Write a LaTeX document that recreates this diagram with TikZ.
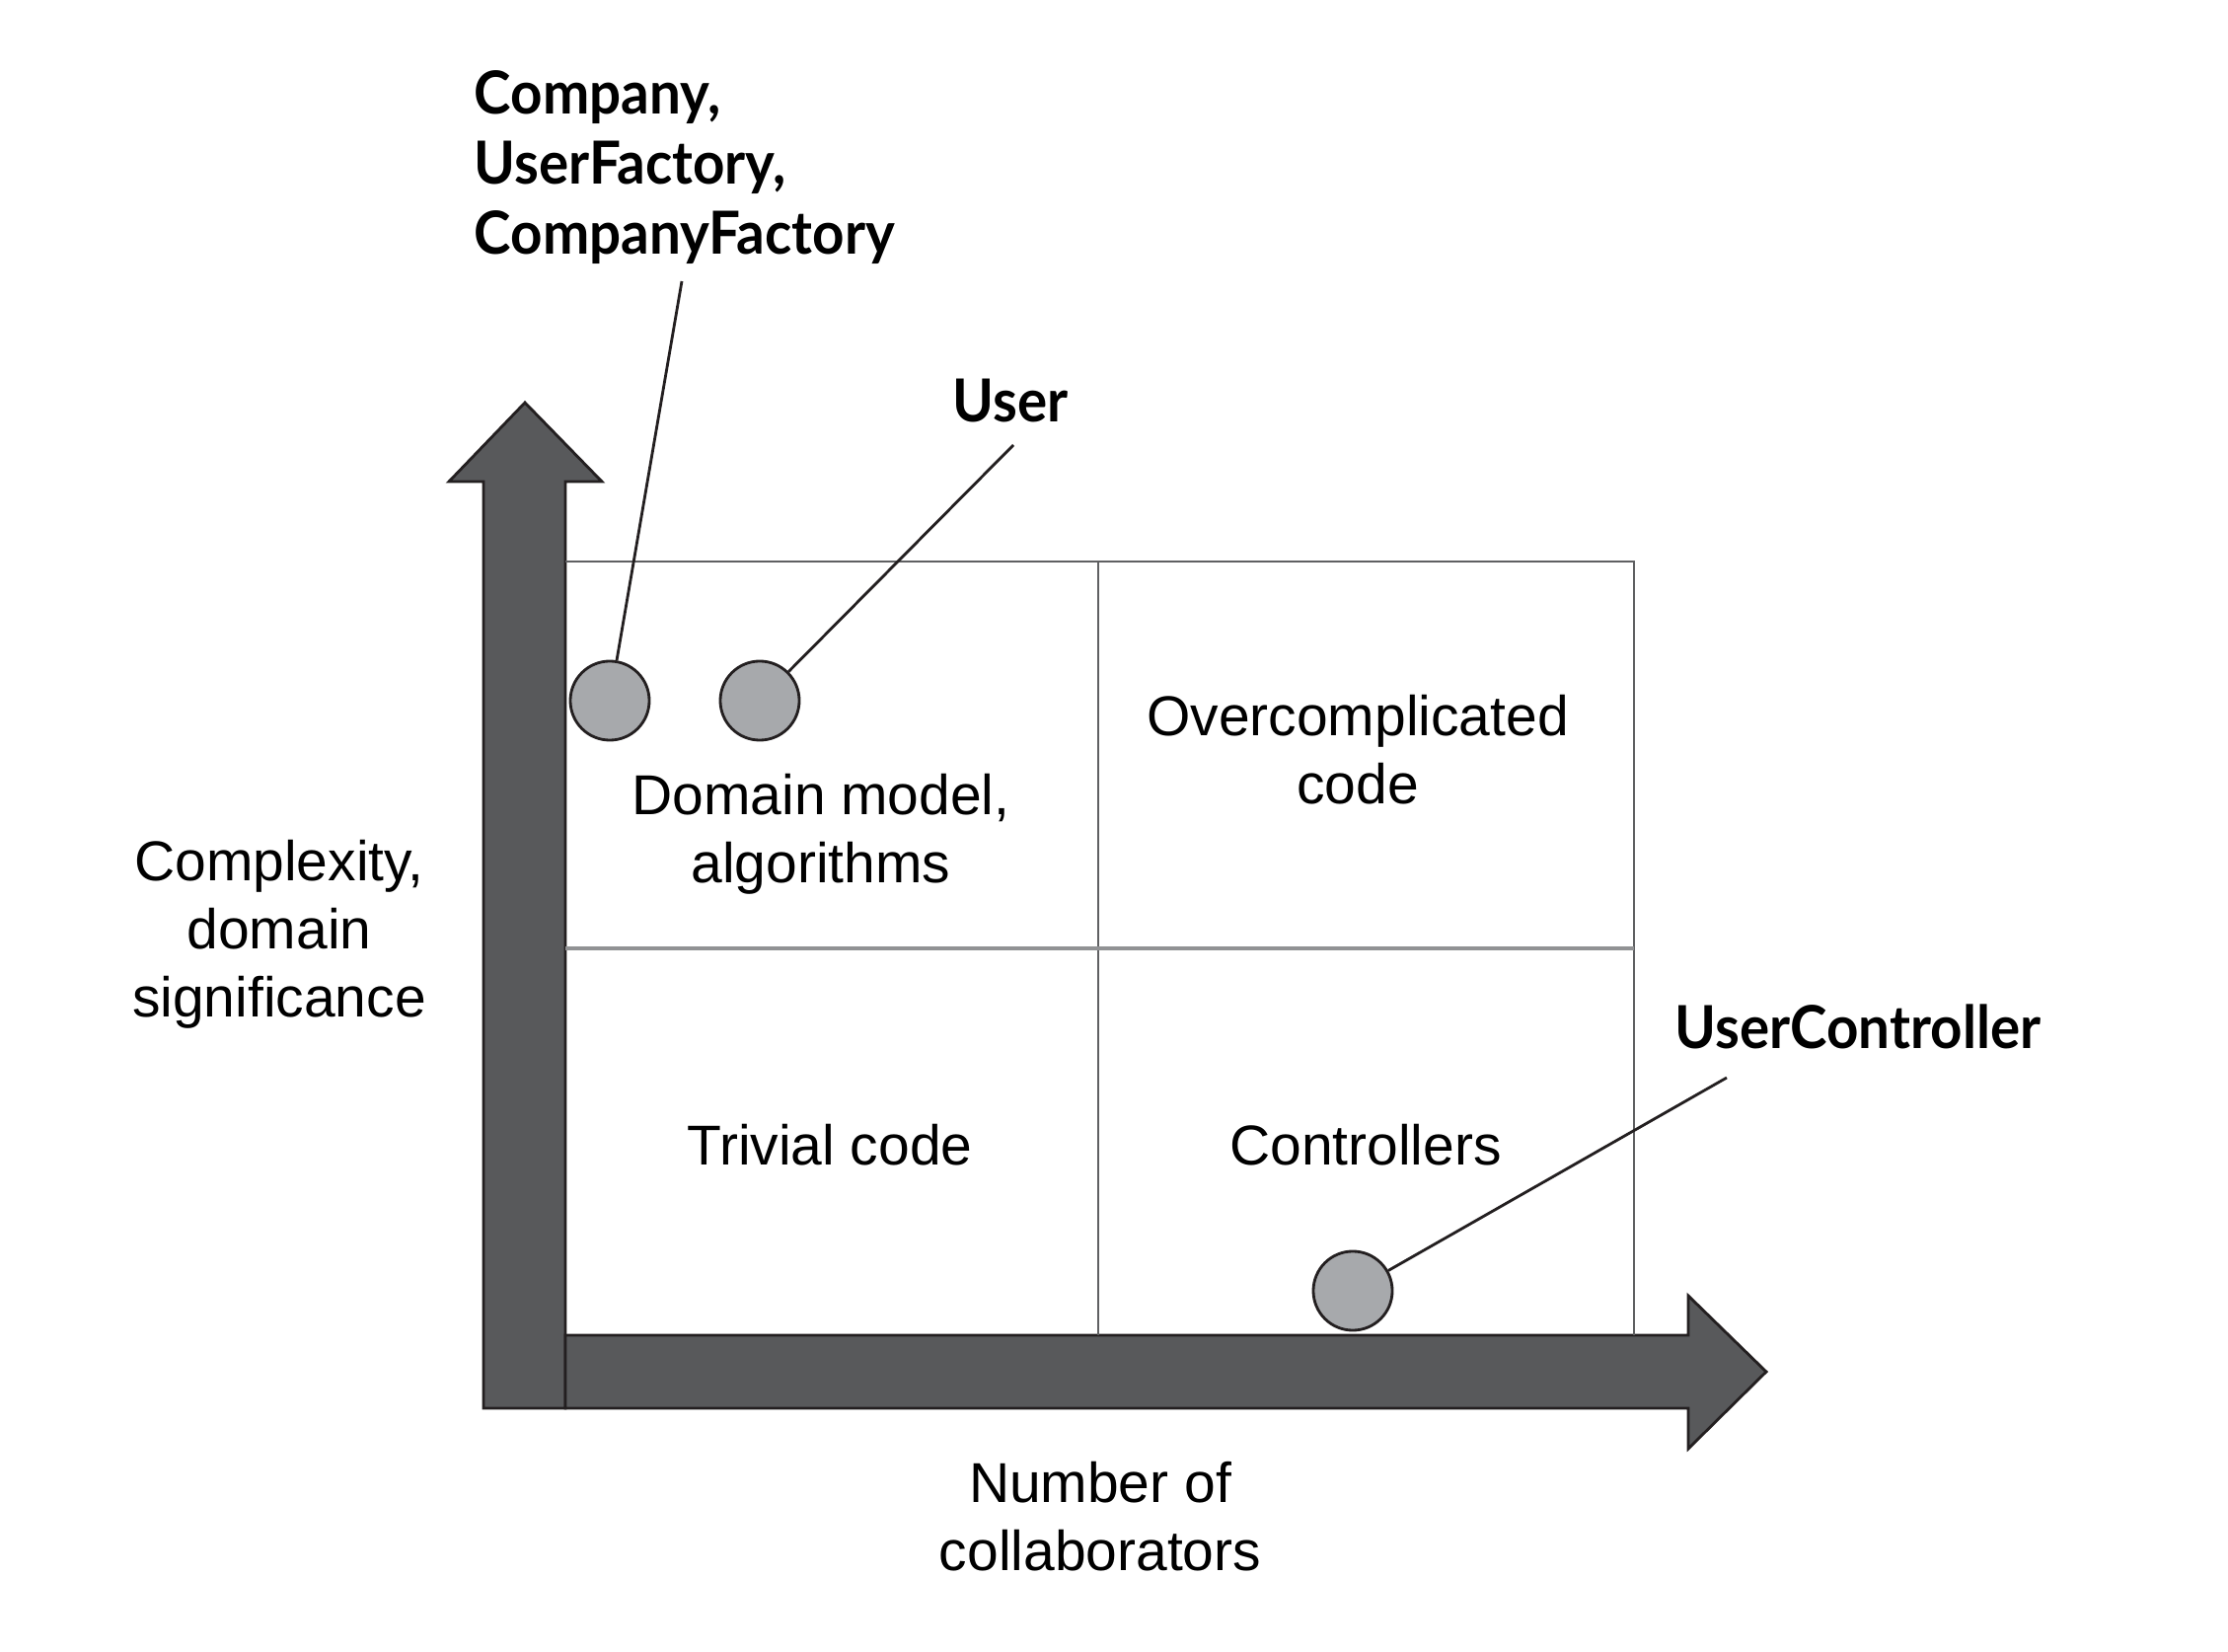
\documentclass[tikz,border=0pt]{standalone}
\usepackage{fontspec}
\setmainfont{Liberation Sans}
\newfontfamily\tagfont[FakeStretch=0.94]{Lato}
\usepackage{tikz}
\usetikzlibrary{positioning}

\definecolor{axisgray}{RGB}{88,89,91}
\definecolor{dotgray}{RGB}{167,169,172}
\definecolor{gridgray}{RGB}{95,96,98}
\definecolor{midgray}{RGB}{145,146,148}
\definecolor{inkgray}{RGB}{35,31,32}

\begin{document}
\begin{tikzpicture}[x=0.01cm, y=-0.01cm,
	quadtext/.style={align=center, inner sep=0, font=\fontsize{16.2}{19.5}\selectfont},
	tagtext/.style={align=left, inner sep=0, font=\tagfont\bfseries\fontsize{17.1}{20.2}\selectfont},
	dot/.style={circle, draw=inkgray, line width=0.8pt, fill=dotgray, minimum size=0.8cm, inner sep=0},
	leader/.style={draw=inkgray, line width=0.8pt},
	bigarrow/.style={draw=inkgray, line width=0.8pt, fill=axisgray, line join=miter},
	gridline/.style={draw=gridgray, line width=0.6pt}]
					\useasboundingbox (0,0) rectangle (2258,1674);
					
					%%% Frecce degli assi
					\draw[bigarrow] (490,1427) -- (490,488) -- (455,488) -- (532,408) -- (610,488) -- (573,488) -- (573,1427) -- cycle;
					\draw[bigarrow] (573,1353) -- (1711,1353) -- (1711,1313) -- (1790,1390) -- (1711,1468) -- (1711,1427) -- (573,1427) -- cycle;
					
					%%% Quadranti
					\draw[gridline] (573,569) -- (1656,569) -- (1656,1353);
					\draw[gridline] (1113,569) -- (1113,1353);
					\draw[draw=midgray, line width=1.1pt] (573,961) -- (1656,961);
					
					%%% Testi
					\node[quadtext, anchor=north] (yLabel) at (283,851) {Complexity,\\domain\\significance};
					\node[quadtext, anchor=north] (xLabel) at (1115,1481) {Number of\\collaborators};
					\node[quadtext, anchor=north] (domainTxt) at (832,784) {Domain model,\\algorithms};
					\node[quadtext, anchor=north] (overTxt) at (1376,704) {Overcomplicated\\code};
					\node[quadtext, anchor=north] (trivialTxt) at (841,1139) {Trivial code};
					\node[quadtext, anchor=north] (ctrlTxt) at (1384,1139) {Controllers};
					
					%%% Classi
					\node[tagtext, anchor=north west] (factTag) at (480,71) {Company,\\UserFactory,\\CompanyFactory};
					\node[tagtext, anchor=base] (userTag) at (1024,428) {User};
					\node[tagtext, anchor=base west] (ucTag) at (1697,1062) {UserController};
					
					\node[dot] (factDot) at (618,710) {};	% Company, factories
					\node[dot] (userDot) at (770,710) {};	% User
					\node[dot] (ucDot) at (1371,1308) {};	% UserController
					
					%%% Linee di richiamo
					\coordinate (factEnd) at (691,285);
					\coordinate (userEnd) at (1027,451);
					\coordinate (ucEnd) at (1750,1092);
					\draw[leader] (factDot) -- (factEnd);
					\draw[leader] (userDot) -- (userEnd);
					\draw[leader] (ucDot) -- (ucEnd);
				\end{tikzpicture}
\end{document}
